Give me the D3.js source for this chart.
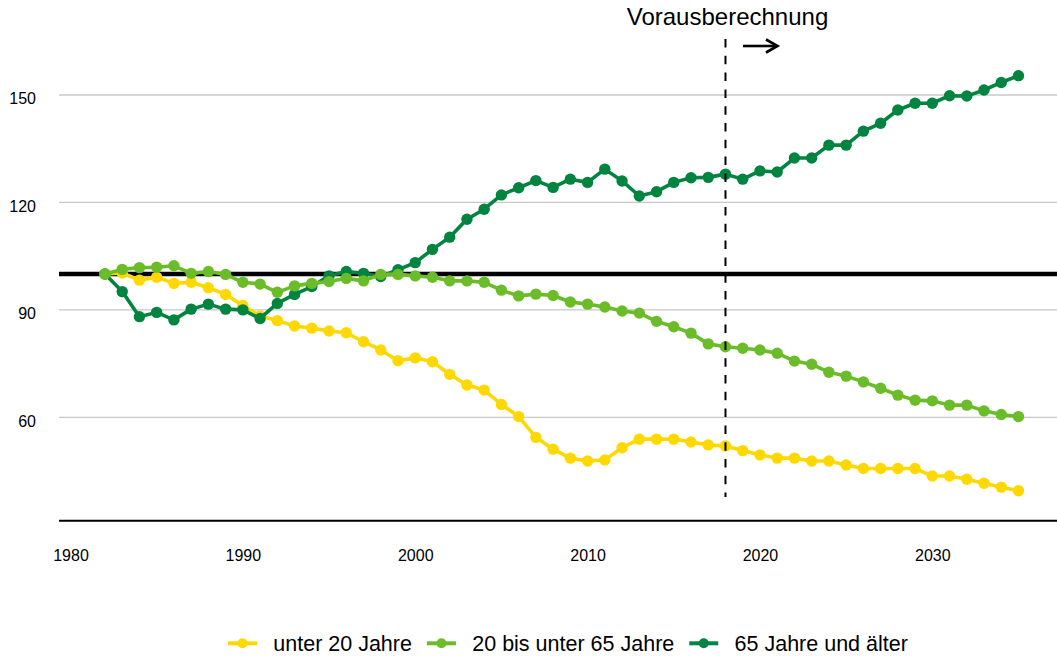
<!DOCTYPE html>
<html>
<head>
<meta charset="utf-8">
<script src="https://cdn.jsdelivr.net/npm/d3@7"></script>
<style>
body { margin: 0; background: #fff; }
svg { display: block; font-family: "Liberation Sans", Arial, sans-serif; }
</style>
</head>
<body>
<div id="chart"></div>
<script>

// Index, 1982 = 100
var years = d3.range(1982, 2036);

var unter20 = [100.0, 100.3, 98.3, 99.1, 97.4, 97.7, 96.2, 94.3, 91.2, 88.3,
	87.0, 85.5, 84.9, 84.1, 83.6, 81.1, 78.8, 75.8, 76.6, 75.5,
	72.0, 69.0, 67.6, 63.6, 60.2, 54.4, 51.1, 48.6, 47.8, 48.1,
	51.5, 53.9, 53.9, 53.9, 53.1, 52.3, 52.0, 50.7, 49.5, 48.6,
	48.6, 47.8, 47.8, 46.7, 45.7, 45.7, 45.7, 45.7, 43.6, 43.6,
	42.7, 41.6, 40.5, 39.5];

var bis65 = [100.0, 101.3, 101.8, 101.9, 102.3, 100.2, 100.7, 99.9, 97.7, 97.2,
	94.9, 96.7, 97.4, 97.9, 98.8, 98.1, 99.9, 99.9, 99.5, 99.1,
	98.1, 98.1, 97.7, 95.5, 93.9, 94.4, 94.0, 92.2, 91.6, 90.8,
	89.7, 89.1, 86.8, 85.3, 83.5, 80.5, 79.7, 79.3, 78.8, 77.9,
	75.7, 74.8, 72.6, 71.5, 69.9, 68.1, 66.2, 64.8, 64.6, 63.4,
	63.4, 61.8, 60.8, 60.2];

var ab65 = [100.0, 95.1, 88.1, 89.3, 87.2, 90.2, 91.6, 90.2, 90.0, 87.6,
	91.8, 94.3, 96.5, 99.5, 100.7, 100.2, 99.3, 101.2, 103.2, 106.9,
	110.3, 115.3, 118.1, 122.1, 124.1, 126.1, 124.2, 126.5, 125.6, 129.3,
	126.0, 121.8, 123.0, 125.6, 126.9, 127.0, 127.9, 126.5, 128.8, 128.5,
	132.4, 132.4, 136.0, 136.0, 139.9, 142.1, 145.8, 147.7, 147.7, 149.8,
	149.7, 151.4, 153.5, 155.4];

var seriesNames = ["unter 20 Jahre", "20 bis unter 65 Jahre", "65 Jahre und älter"];
var seriesColors = ["#ffd800", "#6abd28", "#00843f"];
var seriesValues = [unter20, bis65, ab65];

var xTicks = [1980, 1990, 2000, 2010, 2020, 2030];
var yTicks = [60, 90, 120, 150];
var baseLine = 100;
var projectionStart = 2018;

var width = 1057, height = 656;

var svg = d3.select("#chart").append("svg")
	.attr("width", width)
	.attr("height", height);

var x = d3.scaleLinear().domain([1980, 2035]).range([70.5, 1018.5]);
var y = d3.scaleLinear().domain([60, 150]).range([417.3, 95]);

var panelLeft = 59, panelRight = width, panelBottom = 520.7;

// grid lines
svg.append("g").selectAll("line")
	.data(yTicks)
	.enter()
	.append("line")
	.attr("x1", panelLeft).attr("x2", panelRight)
	.attr("y1", function(d) {return y(d);})
	.attr("y2", function(d) {return y(d);})
	.attr("stroke", "#c8c8c8")
	.attr("stroke-width", 1.3);

// y axis labels
var yAxis = svg.append("g")
	.attr("transform", "translate(36,0)")
	.call(d3.axisLeft(y).tickValues(yTicks).tickSize(0).tickPadding(0));
yAxis.select(".domain").remove();
yAxis.selectAll("text")
	.attr("dy", "0.56em")
	.attr("font-size", 16)
	.attr("font-family", "Liberation Sans, Arial, sans-serif")
	.attr("fill", "#000");

// x axis
var xAxis = svg.append("g")
	.attr("transform", "translate(0," + panelBottom + ")")
	.call(d3.axisBottom(x).tickValues(xTicks).tickSize(0).tickPadding(28.6).tickFormat(d3.format("d")));
xAxis.select(".domain").remove();
xAxis.selectAll("text")
	.attr("font-size", 16)
	.attr("font-family", "Liberation Sans, Arial, sans-serif")
	.attr("fill", "#000");

svg.append("line")
	.attr("x1", panelLeft).attr("x2", panelRight)
	.attr("y1", panelBottom).attr("y2", panelBottom)
	.attr("stroke", "#000")
	.attr("stroke-width", 2);

// reference line at 100
svg.append("line")
	.attr("x1", panelLeft).attr("x2", panelRight)
	.attr("y1", y(baseLine)).attr("y2", y(baseLine))
	.attr("stroke", "#000")
	.attr("stroke-width", 4.5);

// series (drawing order: yellow, dark green, light green)
var drawOrder = [0, 2, 1];
var line = d3.line()
	.x(function(d) {return x(d.year);})
	.y(function(d) {return y(d.value);});

drawOrder.forEach(function(i) {
	var pts = years.map(function(yr, j) {return {year: yr, value: seriesValues[i][j]};});
	var g = svg.append("g");
	g.append("path")
		.datum(pts)
		.attr("d", line)
		.attr("fill", "none")
		.attr("stroke", seriesColors[i])
		.attr("stroke-width", 3.6)
		.attr("stroke-linejoin", "round");
	g.selectAll("circle")
		.data(pts)
		.enter()
		.append("circle")
		.attr("cx", function(d) {return x(d.year);})
		.attr("cy", function(d) {return y(d.value);})
		.attr("r", 5.7)
		.attr("fill", seriesColors[i]);
});

// projection marker
svg.append("line")
	.attr("x1", x(projectionStart)).attr("x2", x(projectionStart))
	.attr("y1", 39).attr("y2", 497)
	.attr("stroke", "#000")
	.attr("stroke-width", 2)
	.attr("stroke-dasharray", "8.5,8.3");

svg.append("text")
	.attr("x", 727.5)
	.attr("y", 25)
	.attr("text-anchor", "middle")
	.attr("font-size", 24)
	.attr("fill", "#000")
	.text("Vorausberechnung");

svg.append("line")
	.attr("x1", 743).attr("x2", 775)
	.attr("y1", 46).attr("y2", 46)
	.attr("stroke", "#000")
	.attr("stroke-width", 2.6);
svg.append("path")
	.attr("d", "M766,39.5 L777.5,46 L766,52.5")
	.attr("fill", "none")
	.attr("stroke", "#000")
	.attr("stroke-width", 2.6)
	.attr("stroke-linejoin", "miter");

// legend
var legend = svg.append("g");
var lx = 228, ly = 643.3;
seriesNames.forEach(function(name, i) {
	var item = legend.append("g").attr("transform", "translate(" + lx + "," + ly + ")");
	item.append("line")
		.attr("x1", 0).attr("x2", 29)
		.attr("y1", 0).attr("y2", 0)
		.attr("stroke", seriesColors[i])
		.attr("stroke-width", 4);
	item.append("circle")
		.attr("cx", 14.5).attr("cy", 0).attr("r", 5)
		.attr("fill", seriesColors[i]);
	var t = item.append("text")
		.attr("x", 45.3)
		.attr("y", 7.7)
		.attr("font-size", 21.5)
		.attr("fill", "#000")
		.text(name);
	lx += 45.3 + t.node().getComputedTextLength() + 15;
});

</script>
</body>
</html>
